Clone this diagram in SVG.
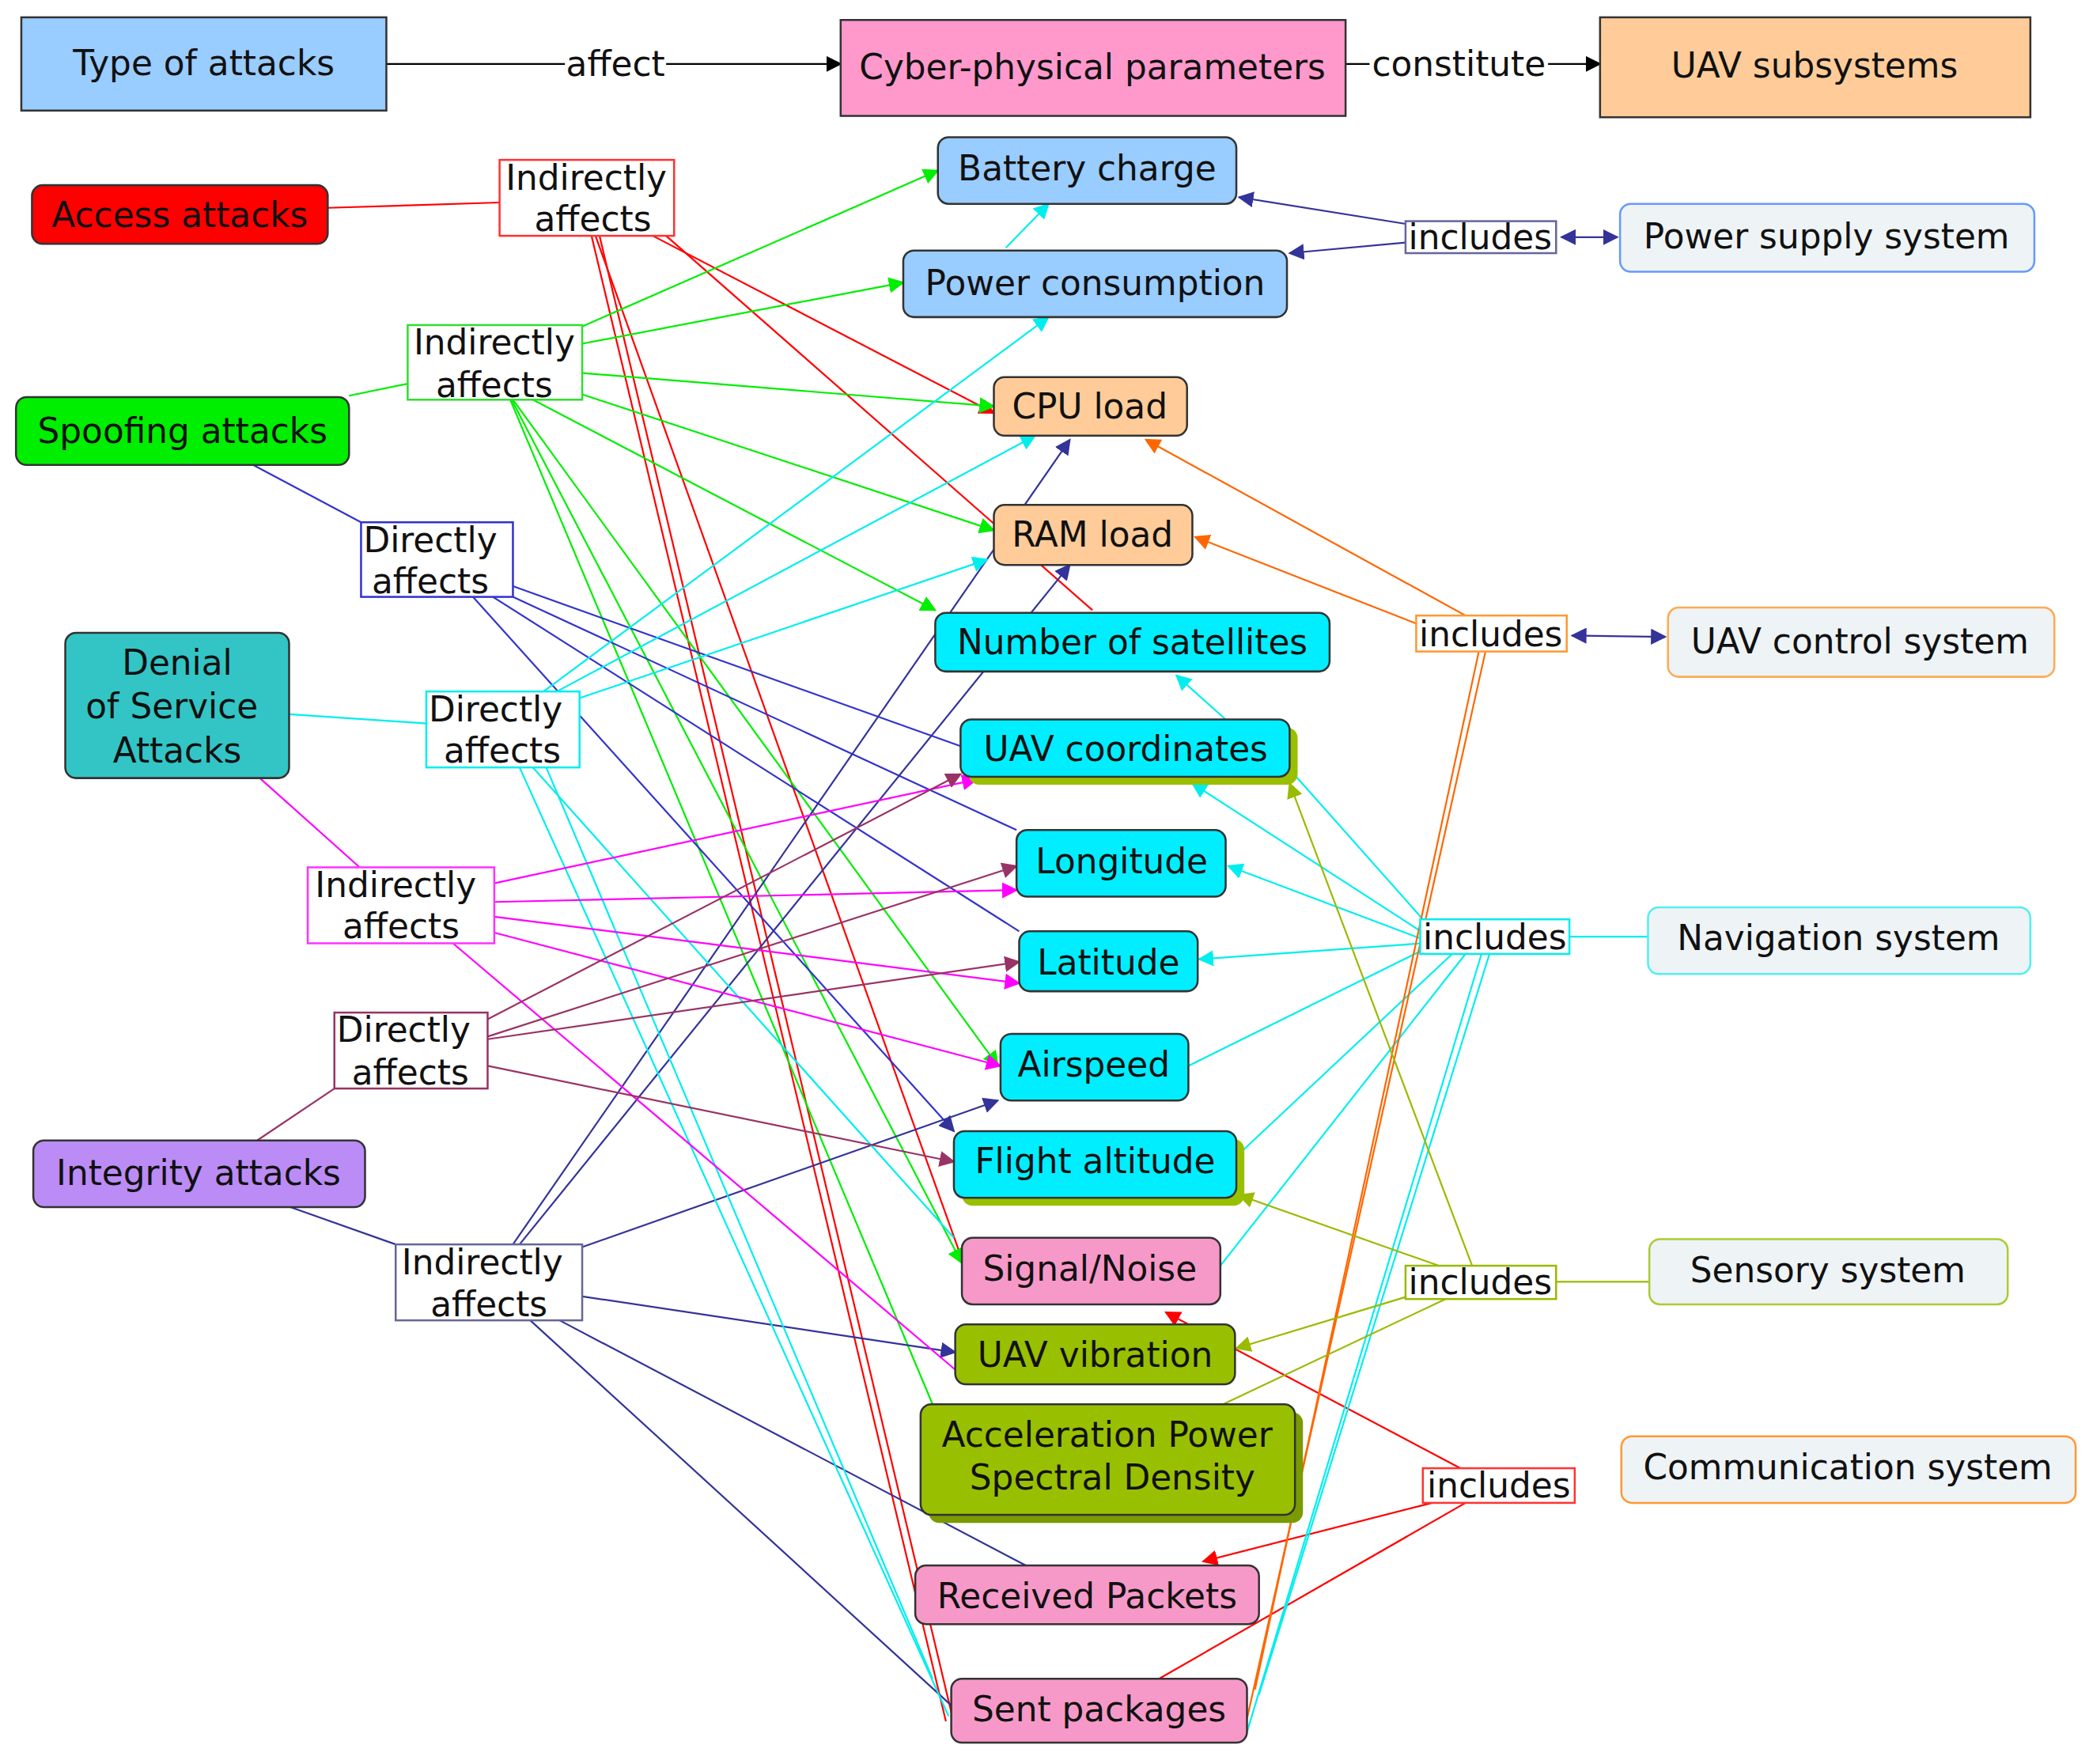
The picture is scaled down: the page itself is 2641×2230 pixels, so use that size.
<svg xmlns="http://www.w3.org/2000/svg" width="2641" height="2230" viewBox="0 0 2641 2230">
<style>
text{font-family:"DejaVu Sans",sans-serif;font-size:26px;fill:#111;text-anchor:middle;dominant-baseline:central}
.n{stroke:#333;stroke-width:1.5}
.l{fill:#fff;stroke-width:1.5}
.s{fill:#eef3f6;stroke-width:1.5}
.e{fill:none;stroke-width:1.3}
</style>
<defs>
<marker id="mk" viewBox="0 0 10 10" refX="9" refY="5" markerWidth="12" markerHeight="12" markerUnits="userSpaceOnUse" orient="auto-start-reverse"><path d="M0,0L10,5L0,10z" fill="#000"/></marker>
<marker id="mr" viewBox="0 0 10 10" refX="9" refY="5" markerWidth="12" markerHeight="12" markerUnits="userSpaceOnUse" orient="auto-start-reverse"><path d="M0,0L10,5L0,10z" fill="#f00"/></marker>
<marker id="mg" viewBox="0 0 10 10" refX="9" refY="5" markerWidth="12" markerHeight="12" markerUnits="userSpaceOnUse" orient="auto-start-reverse"><path d="M0,0L10,5L0,10z" fill="#0e0"/></marker>
<marker id="mn" viewBox="0 0 10 10" refX="9" refY="5" markerWidth="12" markerHeight="12" markerUnits="userSpaceOnUse" orient="auto-start-reverse"><path d="M0,0L10,5L0,10z" fill="#339"/></marker>
<marker id="mc" viewBox="0 0 10 10" refX="9" refY="5" markerWidth="12" markerHeight="12" markerUnits="userSpaceOnUse" orient="auto-start-reverse"><path d="M0,0L10,5L0,10z" fill="#0ee"/></marker>
<marker id="mm" viewBox="0 0 10 10" refX="9" refY="5" markerWidth="12" markerHeight="12" markerUnits="userSpaceOnUse" orient="auto-start-reverse"><path d="M0,0L10,5L0,10z" fill="#f0f"/></marker>
<marker id="mw" viewBox="0 0 10 10" refX="9" refY="5" markerWidth="12" markerHeight="12" markerUnits="userSpaceOnUse" orient="auto-start-reverse"><path d="M0,0L10,5L0,10z" fill="#936"/></marker>
<marker id="mo" viewBox="0 0 10 10" refX="9" refY="5" markerWidth="12" markerHeight="12" markerUnits="userSpaceOnUse" orient="auto-start-reverse"><path d="M0,0L10,5L0,10z" fill="#f60"/></marker>
<marker id="mv" viewBox="0 0 10 10" refX="9" refY="5" markerWidth="12" markerHeight="12" markerUnits="userSpaceOnUse" orient="auto-start-reverse"><path d="M0,0L10,5L0,10z" fill="#9b0"/></marker>
</defs>
<rect width="2641" height="2230" fill="#fff"/>
<g transform="scale(1.6843)">
<g id="connectors">
<path class="e" stroke="#000" d="M290,48H424M500,48H631" marker-end="url(#mk)"/>
<path class="e" stroke="#000" d="M1010,48H1028M1162,48H1201" marker-end="url(#mk)"/>
<g stroke="#f00" class="e">
<path d="M246,156L375,152"/>
<path d="M490,177L746,310" marker-end="url(#mr)"/>
<path d="M500,177L820,458"/>
<path d="M447,177L722,945"/>
<path d="M450,177L714,1285"/>
<path d="M444,177L710,1292"/>
<path d="M1100,1104L875,985" marker-end="url(#mr)"/>
<path d="M1075,1128L903,1172" marker-end="url(#mr)"/>
<path d="M1100,1128L870,1260"/>
</g>
<g stroke="#0e0" class="e">
<path d="M262,297L306,288"/>
<path d="M437,245L704,128" marker-end="url(#mg)"/>
<path d="M437,258L678,212" marker-end="url(#mg)"/>
<path d="M437,280L746,305" marker-end="url(#mg)"/>
<path d="M437,296L746,398" marker-end="url(#mg)"/>
<path d="M400,300L702,458" marker-end="url(#mg)"/>
<path d="M385,300L749,800" marker-end="url(#mg)"/>
<path d="M384,300L722,948" marker-end="url(#mg)"/>
<path d="M383,300L700,1054"/>
</g>
<g stroke="#33c" class="e">
<path d="M190,349L271,392"/>
<path d="M385,440L721,560"/>
<path d="M385,448L763,623"/>
<path d="M370,448L765,699"/>
<path d="M355,448L716,849" marker-end="url(#mn)"/>
</g>
<g stroke="#339" class="e">
<path d="M218,906L297,934"/>
<path d="M385,934L803,330" marker-end="url(#mn)"/>
<path d="M390,934L803,424" marker-end="url(#mn)"/>
<path d="M437,936L749,826" marker-end="url(#mn)"/>
<path d="M437,973L717,1015" marker-end="url(#mn)"/>
<path d="M420,991L770,1175"/>
<path d="M398,991L714,1280"/>
<path d="M1055,168L930,148" marker-end="url(#mn)"/>
<path d="M1055,182L968,190" marker-end="url(#mn)"/>
<path d="M1172,178H1214" marker-start="url(#mn)" marker-end="url(#mn)"/>
<path d="M1180,477L1250,478" marker-start="url(#mn)" marker-end="url(#mn)"/>
</g>
<g stroke="#0ee" class="e">
<path d="M217,536L320,543"/>
<path d="M755,186L787,153" marker-end="url(#mc)"/>
<path d="M408,519L787,238" marker-end="url(#mc)"/>
<path d="M418,519L777,327" marker-end="url(#mc)"/>
<path d="M435,524L741,420" marker-end="url(#mc)"/>
<path d="M400,576L716,929"/>
<path d="M390,576L712,1288"/>
<path d="M410,576L700,1260"/>
<path d="M1178,703H1237"/>
<path d="M920,540L883,507" marker-end="url(#mc)"/>
<path d="M1068,700L895,588" marker-end="url(#mc)"/>
<path d="M1068,705L922,650" marker-end="url(#mc)"/>
<path d="M1068,708L900,720" marker-end="url(#mc)"/>
<path d="M1070,712L892,800"/>
<path d="M1090,716L928,868"/>
<path d="M1100,716L916,950"/>
<path d="M1112,716L936,1300"/>
<path d="M1118,716L945,1272"/>
<path d="M973,583L1068,690"/>
</g>
<g stroke="#f0f" class="e">
<path d="M195,584L270,651"/>
<path d="M371,663L733,585" marker-end="url(#mm)"/>
<path d="M371,677L763,668" marker-end="url(#mm)"/>
<path d="M371,688L765,738" marker-end="url(#mm)"/>
<path d="M371,700L751,800" marker-end="url(#mm)"/>
<path d="M340,708L717,1028"/>
</g>
<g stroke="#936" class="e">
<path d="M193,856L251,817"/>
<path d="M366,765L721,581" marker-end="url(#mw)"/>
<path d="M366,778L763,650" marker-end="url(#mw)"/>
<path d="M366,780L765,722" marker-end="url(#mw)"/>
<path d="M366,800L716,872" marker-end="url(#mw)"/>
</g>
<g stroke="#f60" class="e">
<path d="M1100,462L860,330" marker-end="url(#mo)"/>
<path d="M1063,468L897,403" marker-end="url(#mo)"/>
<path d="M1115,489L936,1290"/>
<path d="M1110,489L942,1268"/>
</g>
<g stroke="#9b0" class="e">
<path d="M1168,962H1238"/>
<path d="M1105,950L968,588" marker-end="url(#mv)"/>
<path d="M1080,950L930,897" marker-end="url(#mv)"/>
<path d="M1060,972L928,1012" marker-end="url(#mv)"/>
<path d="M1085,975L918,1054"/>
</g>
</g>
<g id="n-type"><rect x="16" y="13" width="274" height="70" fill="#99ccff" class="n"/><text x="153" y="47">Type of attacks</text></g>
<g id="n-cpp"><rect x="631" y="15" width="379" height="72" fill="#ff99cc" class="n"/><text x="820" y="50">Cyber-physical parameters</text></g>
<g id="n-sub"><rect x="1201" y="13" width="323" height="75" fill="#ffcc99" class="n"/><text x="1362" y="49">UAV subsystems</text></g>
<g id="n-access"><rect x="24" y="139" width="222" height="44" rx="8" fill="#f00" class="n"/><text x="135" y="161">Access attacks</text></g>
<g id="n-spoof"><rect x="12" y="298" width="250" height="51" rx="8" fill="#00ee00" class="n"/><text x="137" y="323">Spoofing attacks</text></g>
<g id="n-dos"><rect x="49" y="475" width="168" height="109" rx="8" fill="#33c5c5" class="n"/><text x="133" y="497">Denial</text><text x="129" y="530">of Service</text><text x="133" y="563">Attacks</text></g>
<g id="n-integ"><rect x="25" y="856" width="249" height="50" rx="8" fill="#bb8cf5" class="n"/><text x="149" y="880">Integrity attacks</text></g>
<g id="l1"><rect x="375" y="120" width="131" height="57" class="l" stroke="#f33"/><text x="440" y="133">Indirectly</text><text x="445" y="164">affects</text></g>
<g id="l2"><rect x="306" y="244" width="131" height="56" class="l" stroke="#3d3"/><text x="371" y="257">Indirectly</text><text x="371" y="289">affects</text></g>
<g id="l3"><rect x="271" y="392" width="114" height="56" class="l" stroke="#33c"/><text x="323" y="405">Directly</text><text x="323" y="436">affects</text></g>
<g id="l4"><rect x="320" y="519" width="115" height="57" class="l" stroke="#0ee"/><text x="372" y="532">Directly</text><text x="377" y="563">affects</text></g>
<g id="l5"><rect x="231" y="651" width="140" height="57" class="l" stroke="#f3f"/><text x="297" y="664">Indirectly</text><text x="301" y="695">affects</text></g>
<g id="l6"><rect x="251" y="760" width="115" height="57" class="l" stroke="#936"/><text x="303" y="773">Directly</text><text x="308" y="805">affects</text></g>
<g id="l7"><rect x="297" y="934" width="140" height="57" class="l" stroke="#669"/><text x="362" y="947">Indirectly</text><text x="367" y="979">affects</text></g>
<g id="p-bat"><rect x="704" y="103" width="224" height="50" rx="8" fill="#99ccff" class="n"/><text x="816" y="126">Battery charge</text></g>
<g id="p-pow"><rect x="678" y="188" width="288" height="50" rx="8" fill="#99ccff" class="n"/><text x="822" y="212">Power consumption</text></g>
<g id="p-cpu"><rect x="746" y="283" width="145" height="44" rx="8" fill="#ffcc99" class="n"/><text x="818" y="305">CPU load</text></g>
<g id="p-ram"><rect x="746" y="379" width="149" height="45" rx="8" fill="#ffcc99" class="n"/><text x="820" y="401">RAM load</text></g>
<g id="p-sat"><rect x="702" y="460" width="296" height="44" rx="8" fill="#00eeff" class="n"/><text x="850" y="482">Number of satellites</text></g>
<g id="p-coord"><rect x="727" y="546" width="247" height="43" rx="8" fill="#99c000"/><rect x="721" y="540" width="247" height="43" rx="8" fill="#00eeff" class="n"/><text x="845" y="562">UAV coordinates</text></g>
<g id="p-lon"><rect x="763" y="623" width="157" height="50" rx="8" fill="#00eeff" class="n"/><text x="842" y="646">Longitude</text></g>
<g id="p-lat"><rect x="765" y="699" width="134" height="45" rx="8" fill="#00eeff" class="n"/><text x="832" y="722">Latitude</text></g>
<g id="p-air"><rect x="751" y="776" width="141" height="50" rx="8" fill="#00eeff" class="n"/><text x="821" y="799">Airspeed</text></g>
<g id="p-alt"><rect x="722" y="855" width="212" height="50" rx="8" fill="#99c000"/><rect x="716" y="849" width="212" height="50" rx="8" fill="#00eeff" class="n"/><text x="822" y="871">Flight altitude</text></g>
<g id="p-sn"><rect x="722" y="929" width="194" height="50" rx="8" fill="#f799c8" class="n"/><text x="818" y="952">Signal/Noise</text></g>
<g id="p-vib"><rect x="717" y="994" width="210" height="45" rx="8" fill="#99c000" class="n"/><text x="822" y="1017">UAV vibration</text></g>
<g id="p-apsd"><rect x="697" y="1060" width="281" height="83" rx="8" fill="#7a9a00"/><rect x="691" y="1054" width="281" height="83" rx="8" fill="#99c000" class="n"/><text x="831" y="1077">Acceleration Power</text><text x="835" y="1109">Spectral Density</text></g>
<g id="p-recv"><rect x="687" y="1175" width="258" height="44" rx="8" fill="#f799c8" class="n"/><text x="816" y="1198">Received Packets</text></g>
<g id="p-sent"><rect x="714" y="1260" width="222" height="48" rx="8" fill="#f799c8" class="n"/><text x="825" y="1283">Sent packages</text></g>
<g id="i1"><rect x="1055" y="166" width="113" height="24" class="l" stroke="#669"/><text x="1111" y="178">includes</text></g>
<g id="i2"><rect x="1063" y="462" width="113" height="27" class="l" stroke="#f93"/><text x="1119" y="476">includes</text></g>
<g id="i3"><rect x="1066" y="690" width="112" height="26" class="l" stroke="#0ee"/><text x="1122" y="703">includes</text></g>
<g id="i4"><rect x="1055" y="950" width="113" height="25" class="l" stroke="#9b0"/><text x="1111" y="962">includes</text></g>
<g id="i5"><rect x="1068" y="1102" width="114" height="26" class="l" stroke="#f33"/><text x="1125" y="1115">includes</text></g>
<g id="s-pow"><rect x="1216" y="153" width="311" height="51" rx="8" class="s" stroke="#69f"/><text x="1371" y="177">Power supply system</text></g>
<g id="s-ctl"><rect x="1252" y="456" width="290" height="52" rx="8" class="s" stroke="#fa5"/><text x="1396" y="481">UAV control system</text></g>
<g id="s-nav"><rect x="1237" y="681" width="287" height="50" rx="8" class="s" stroke="#5ee"/><text x="1380" y="704">Navigation system</text></g>
<g id="s-sen"><rect x="1238" y="930" width="269" height="49" rx="8" class="s" stroke="#ac3"/><text x="1372" y="953">Sensory system</text></g>
<g id="s-com"><rect x="1217" y="1078" width="341" height="50" rx="8" class="s" stroke="#f93"/><text x="1387" y="1101">Communication system</text></g>
<g id="edge-labels"><text x="462" y="48">affect</text><text x="1095" y="48">constitute</text></g>
</g>
</svg>
